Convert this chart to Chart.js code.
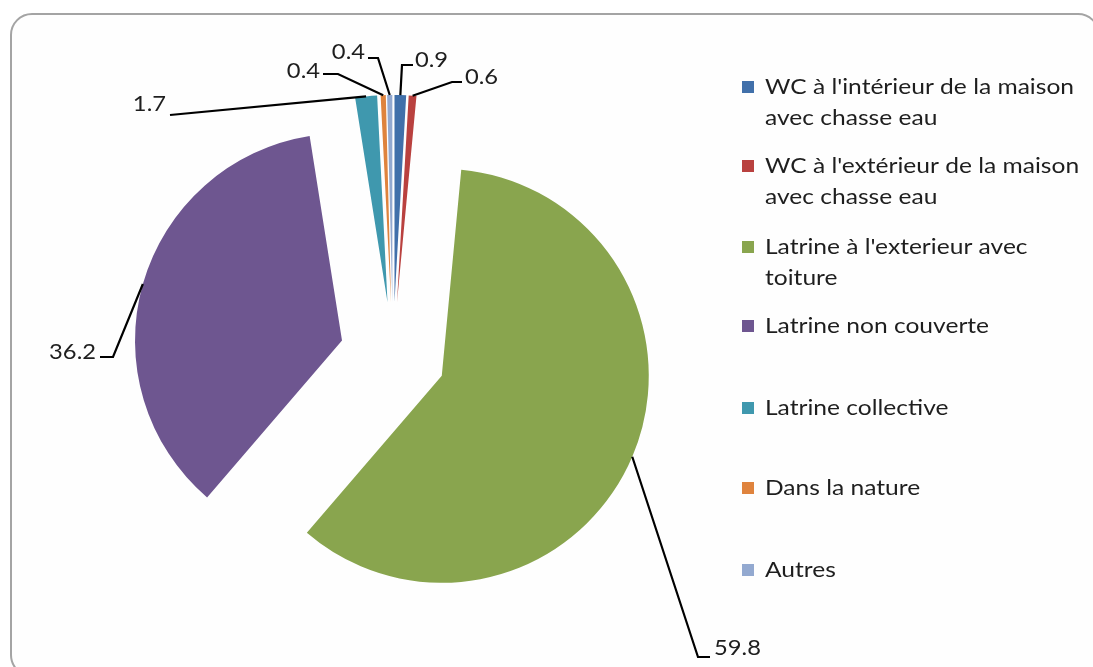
<!DOCTYPE html>
<html>
<head>
<meta charset="utf-8">
<script src="https://cdn.jsdelivr.net/npm/chart.js@4.4.0/dist/chart.umd.min.js"></script>
<style>
  html, body { margin: 0; padding: 0; background: #ffffff; overflow: hidden; }
  #wrap { position: relative; width: 1093px; height: 667px; overflow: hidden; }
  #frame { position: absolute; left: 10px; top: 13px; width: 1086px; height: 660px;
           border: 2px solid #a4a4a4; border-radius: 22px; background: #fefefe; }
  canvas { position: absolute; left: 0; top: 0; }
</style>
</head>
<body>
<div id="wrap">
  <div id="frame"></div>
  <canvas id="c" width="1093" height="667"></canvas>
</div>
<script>
// ---- data ----
const categories = [
  "WC à l'intérieur de la maison avec chasse eau",
  "WC à l'extérieur de la maison avec chasse eau",
  "Latrine à l'exterieur avec toiture",
  "Latrine non couverte",
  "Latrine collective",
  "Dans la nature",
  "Autres"
];
const values = [0.9, 0.6, 59.8, 36.2, 1.7, 0.4, 0.4];
const colors = ['#4170aa', '#b9413f', '#89a54e', '#6e5690', '#3f98ae', '#df833d', '#93a9d0'];

// ---- layout (label positions: elbow x,y ; end x ; text x,y ; align) ----
const EXPLODE = 53;
const labelLayout = [
  { ex: 402, ey: 65,  endX: 413, tx: 415, ty: 60,  align: 'left'  },
  { ex: 452, ey: 82,  endX: 462, tx: 465, ty: 77,  align: 'left'  },
  { ex: 698, ey: 657, endX: 710, tx: 714, ty: 648, align: 'left'  },
  { ex: 113, ey: 357, endX: 100, tx: 96,  ty: 352, align: 'right' },
  { ex: 170, ey: 115, endX: 170, tx: 166, ty: 104, align: 'right' },
  { ex: 338, ey: 74,  endX: 323, tx: 320, ty: 71,  align: 'right' },
  { ex: 378, ey: 58,  endX: 368, tx: 365, ty: 52,  align: 'right' }
];
const legendLayout = { boxX: 742, boxSize: 12, textX: 765, lineH: 31,
  itemY: [87, 166, 247, 326, 408, 488, 570], wrapWidth: 325 };
const LABEL_FONT = '21px Lato';
const LABEL_STRETCH = 1.13;
const LEGEND_FONT = '21px Lato';
const LEGEND_STRETCH = 1.17;
const TEXT_COLOR = '#1e1e1e';

const explodePlugin = {
  id: 'explode',
  beforeDatasetDraw(chart, args) {
    const ctx = chart.ctx;
    args.meta.data.forEach(arc => {
      const mid = (arc.startAngle + arc.endAngle) / 2;
      ctx.save();
      ctx.translate(Math.cos(mid) * EXPLODE, Math.sin(mid) * EXPLODE);
      arc.draw(ctx);
      ctx.restore();
    });
    return false;
  }
};

function stretchedText(ctx, text, x, y, sx, align) {
  const w = ctx.measureText(text).width * sx;
  const left = align === 'right' ? x - w : x;
  ctx.save();
  ctx.translate(left, y);
  ctx.scale(sx, 1);
  ctx.textAlign = 'left';
  ctx.fillText(text, 0, 0);
  ctx.restore();
}

function wrapText(ctx, text, maxW, sx) {
  const words = text.split(' ');
  const lines = [];
  let cur = '';
  words.forEach(w => {
    const test = cur ? cur + ' ' + w : w;
    if (ctx.measureText(test).width * sx > maxW && cur) { lines.push(cur); cur = w; }
    else cur = test;
  });
  if (cur) lines.push(cur);
  return lines;
}

const labelsPlugin = {
  id: 'leaderLabels',
  afterDraw(chart) {
    const ctx = chart.ctx;
    const meta = chart.getDatasetMeta(0);
    ctx.save();
    meta.data.forEach((arc, i) => {
      const mid = (arc.startAngle + arc.endAngle) / 2;
      const r = arc.outerRadius + EXPLODE;
      const sx = arc.x + Math.cos(mid) * r;
      const sy = arc.y + Math.sin(mid) * r;
      const L = labelLayout[i];
      ctx.beginPath();
      ctx.moveTo(sx, sy);
      ctx.lineTo(L.ex, L.ey);
      ctx.lineTo(L.endX, L.ey);
      ctx.strokeStyle = '#000000';
      ctx.lineWidth = 2.2;
      ctx.stroke();
      ctx.font = LABEL_FONT;
      ctx.fillStyle = TEXT_COLOR;
      ctx.textBaseline = 'middle';
      stretchedText(ctx, values[i].toFixed(1), L.tx, L.ty, LABEL_STRETCH, L.align);
    });
    ctx.font = LEGEND_FONT;
    ctx.textBaseline = 'middle';
    categories.forEach((cat, i) => {
      const y0 = legendLayout.itemY[i];
      ctx.fillStyle = colors[i];
      ctx.fillRect(legendLayout.boxX, y0 - legendLayout.boxSize / 2, legendLayout.boxSize, legendLayout.boxSize);
      ctx.fillStyle = TEXT_COLOR;
      const lines = wrapText(ctx, cat, legendLayout.wrapWidth, LEGEND_STRETCH);
      lines.forEach((ln, k) => stretchedText(ctx, ln, legendLayout.textX, y0 + k * legendLayout.lineH, LEGEND_STRETCH, 'left'));
    });
    ctx.restore();
  }
};

new Chart(document.getElementById('c'), {
  type: 'pie',
  data: {
    labels: categories,
    datasets: [{
      data: values,
      backgroundColor: colors,
      borderWidth: 0,
      radius: 207
    }]
  },
  options: {
    responsive: false,
    animation: false,
    layout: { padding: { left: 0, right: 307, top: 43, bottom: 0 } },
    plugins: { legend: { display: false }, tooltip: { enabled: false } }
  },
  plugins: [explodePlugin, labelsPlugin]
});
</script>
</body>
</html>
